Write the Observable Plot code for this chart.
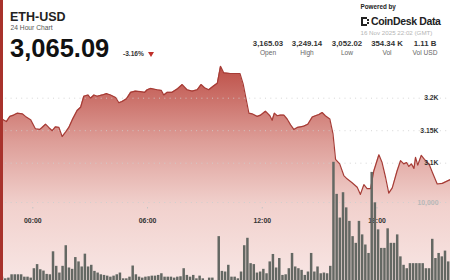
<!DOCTYPE html>
<html><head><meta charset="utf-8">
<script src="https://cdn.jsdelivr.net/npm/d3@7"></script>
<script src="https://cdn.jsdelivr.net/npm/@observablehq/plot@0.6"></script>
<style>
html,body{margin:0;padding:0;background:#fff;overflow:hidden}
#wrap{position:relative;width:450px;height:280px;overflow:hidden;font-family:"Liberation Sans",Arial,sans-serif;background:#fff}
#wrap svg{position:absolute;left:0;top:0}
.t{position:absolute;line-height:1;white-space:nowrap}
#vol g[aria-label^="x-axis"] text{fill:#333}
</style>
</head><body>
<div id="wrap"></div>
<script>
// ---- data ----
const priceTimes = ["15 22:05","15 22:27","15 22:37","15 22:48","15 23:00","15 23:11","15 23:27","15 23:37","15 23:53",
"16 00:08","16 00:22","16 00:29","16 00:40","16 00:50","16 01:01","16 01:11","16 01:22","16 01:32","16 01:43","16 01:53",
"16 02:04","16 02:19","16 02:30","16 02:40","16 02:53","16 03:01","16 03:12","16 03:22","16 03:38","16 03:51",
"16 04:04","16 04:20","16 04:30","16 04:40","16 04:54","16 05:07","16 05:22","16 05:38","16 05:51","16 05:59",
"16 06:09","16 06:30","16 06:43","16 06:51","16 07:02","16 07:17","16 07:33","16 07:49","16 08:04","16 08:20",
"16 08:36","16 08:48","16 08:59","16 09:12","16 09:28","16 09:39","16 09:49","16 09:59","16 10:20","16 10:36",
"16 10:50","16 11:00","16 11:18","16 11:28","16 11:44","16 11:55","16 12:10","16 12:24","16 12:31","16 12:38",
"16 12:47","16 12:57","16 13:08","16 13:18","16 13:29","16 13:39","16 13:50","16 14:00","16 14:10","16 14:23",
"16 14:37","16 14:47","16 14:58","16 15:08","16 15:18","16 15:32","16 15:42","16 15:50","16 16:03","16 16:16",
"16 16:26","16 16:42","16 16:58","16 17:08","16 17:19","16 17:29","16 17:40","16 17:50","16 18:06","16 18:16",
"16 18:27","16 18:37","16 18:48","16 19:03","16 19:14","16 19:24","16 19:33","16 19:40","16 19:48","16 19:56",
"16 20:01","16 20:08","16 20:19","16 20:29","16 20:43","16 20:53","16 21:09","16 21:25","16 21:38","16 21:51","16 22:02"];
const prices = [3166,3167,3164,3172,3174,3177,3176,3172,3167,
3153,3152,3155,3160,3155,3150,3156,3155,3141,3148,3155,
3167,3181,3186,3203,3205,3200,3205,3203,3205,3207,
3205,3201,3193,3195,3199,3209,3211,3210,3209,3213,
3215,3213,3212,3205,3209,3209,3214,3221,3213,3211,
3213,3221,3216,3213,3219,3223,3249,3239,3238,3238,
3238,3222,3177,3176,3172,3174,3180,3173,3166,3177,
3173,3174,3174,3168,3159,3152,3155,3156,3157,3160,
3171,3173,3175,3178,3173,3168,3145,3106,3099,3081,
3076,3070,3063,3052,3067,3061,3061,3088,3113,3101,
3078,3054,3062,3088,3104,3099,3101,3095,3099,3092,
3109,3097,3112,3106,3099,3087,3068,3069,3072,3075,3073];
const volStart = "15 22:00";
const volStepMinutes = 10;
const volumes = [500,500,550,340,430,850,850,850,850,550,
550,430,1620,2140,1490,1320,900,850,3760,1920,
1070,1920,4530,1710,1540,3030,2480,1840,3460,1840,
2050,1280,1070,850,770,680,550,680,850,1070,
340,340,550,1960,850,550,430,550,600,680,
680,770,980,550,550,550,430,550,600,1620,
770,550,770,340,680,340,130,430,430,130,
5680,1280,1200,2050,550,550,340,1200,4530,5470,
2260,2140,1070,1200,1540,980,2480,3420,1710,2910,
770,850,1620,3550,1840,1620,1410,770,1200,3550,
1200,1840,980,1070,980,1920,15090,11030,8030,11240,
9320,7610,5680,4830,7610,5900,4620,3550,13810,9960,
6540,4190,4190,6670,4830,4830,5900,3120,2050,1620,
2260,2260,2260,2260,2260,1620,1620,5340,2910,3550,
3120,3850,2480,2200];
const priceTicks = [3100,3150,3200];
const volTicks = [10000];
const timeTicks = ["16 00:00","16 06:00","16 12:00","16 18:00"];
const windowTimes = ["15 22:02","16 22:02"];
const statValues = ["3,165.03","3,249.14","3,052.02","354.34 K","1.11 B"];
const statLabels = ["Open","High","Low","Vol","Vol USD"];
const titleText = "ETH-USD", subtitleText = "24 Hour Chart", lastPrice = "3,065.09", changeText = "-3.16%";
const stampText = "16 Nov 2025 22:02 (GMT)";

// ---- build ----
const parseT = s => d3.utcParse("%Y-%m-%d %H:%M")("2025-11-" + s);
const xDomain = windowTimes.map(parseT);
const xRange = [-5.3, 453.6];
const priceData = priceTimes.map((t, i) => ({t: parseT(t), p: prices[i]}));
const start = parseT(volStart);
const volData = volumes.map((v, i) => ({
  t1: d3.utcMinute.offset(start, i * volStepMinutes),
  t2: d3.utcMinute.offset(start, (i + 1) * volStepMinutes), v}));

const wrap = document.getElementById("wrap");

const pricePlot = Plot.plot({
  width: 450, height: 280, margin: 0,
  style: {background: "transparent", fontFamily: "Liberation Sans, Arial, sans-serif"},
  x: {type: "utc", domain: xDomain, range: xRange, axis: null},
  y: {domain: [3100, 3200], range: [162.7, 97.7], axis: null},
  marks: [
    Plot.areaY(priceData, {x: "t", y: "p", fill: "url(#areaGrad)"}),
    Plot.ruleY(priceTicks, {stroke: "#cfcfcf", strokeOpacity: 0.85, strokeDasharray: "1,4.3"}),
    Plot.lineY(priceData, {x: "t", y: "p", stroke: "#a63c36", strokeWidth: 1.2}),
    Plot.text(priceTicks, {y: d => d, text: d => (d / 1000) + "K", frameAnchor: "right", dx: -12,
      textAnchor: "end", fontWeight: "bold", fontSize: 6.8, fill: "#333"})
  ]
});
const ys = pricePlot.scale("y");
const defs = d3.select(pricePlot).insert("defs", ":first-child");
const grad = defs.append("linearGradient").attr("id", "areaGrad")
  .attr("gradientUnits", "userSpaceOnUse").attr("x1", 0).attr("x2", 0)
  .attr("y1", ys.apply(d3.max(prices))).attr("y2", 280);
[[0, "#bd4f47"], [0.35, "#dd9d97"], [0.65, "#f1d1cd"], [1, "#f8e6e4"]].forEach(([o, c]) =>
  grad.append("stop").attr("offset", o).attr("stop-color", c));
wrap.appendChild(pricePlot);

const volPlot = Plot.plot({
  width: 450, height: 280, marginTop: 0, marginLeft: 0, marginRight: 0, marginBottom: 73,
  style: {background: "transparent", fontFamily: "Liberation Sans, Arial, sans-serif", fontSize: "6.9px", fontWeight: "bold", color: "#c4c4c4"},
  x: {type: "utc", domain: xDomain, range: xRange, ticks: timeTicks.map(parseT),
      tickFormat: d3.utcFormat("%H:%M"), tickSize: 1.5, tickPadding: 9, label: null},
  y: {domain: [0, 10000], range: [281, 202], axis: null},
  marks: [
    Plot.ruleY(volTicks, {stroke: "#cfcfcf", strokeDasharray: "1,4.3"}),
    Plot.rectY(volData, {x1: "t1", x2: "t2", y: "v", fill: "#646863", insetLeft: 0.35, insetRight: 0.35}),
    Plot.text(volTicks, {y: d => d, text: d => d3.format(",")(d), frameAnchor: "right", dx: -12,
      textAnchor: "end", fontWeight: "bold", fontSize: 6.9, fill: "#b8b8b8"})
  ]
});
volPlot.id = "vol";
wrap.appendChild(volPlot);

// ---- header (HTML text) ----
function addText(txt, css) {
  const d = document.createElement("div");
  d.className = "t"; d.textContent = txt;
  Object.assign(d.style, css);
  wrap.appendChild(d);
  return d;
}
const border = document.createElement("div");
Object.assign(border.style, {position: "absolute", left: "0", top: "0", width: "3px", height: "280px", background: "#a8322c"});
wrap.appendChild(border);

addText(titleText, {left: "10px", top: "11px", fontSize: "12.5px", fontWeight: "bold", color: "#222"});
addText(subtitleText, {left: "10.5px", top: "25px", fontSize: "6.7px", color: "#555"});
addText(lastPrice, {left: "10px", top: "35.5px", fontSize: "25.5px", fontWeight: "bold", color: "#111"});
addText(changeText, {left: "123px", top: "51px", fontSize: "6.6px", fontWeight: "bold", color: "#333"});
const tri = document.createElement("div");
Object.assign(tri.style, {position: "absolute", left: "148px", top: "51.5px", width: "0", height: "0",
  borderLeft: "3.6px solid transparent", borderRight: "3.6px solid transparent", borderTop: "5px solid #c0302a"});
wrap.appendChild(tri);

addText("Powered by", {left: "360.5px", top: "3.6px", fontSize: "6.3px", fontWeight: "bold", color: "#222"});
const icon = document.createElement("div");
Object.assign(icon.style, {position: "absolute", left: "361px", top: "17px", width: "4px", height: "4.5px",
  borderLeft: "2px solid #222", borderTop: "2px solid #222", borderBottom: "2px solid #222"});
wrap.appendChild(icon);
[[366.5, 18.5], [366.5, 22]].forEach(([l, t]) => {
  const s = document.createElement("div");
  Object.assign(s.style, {position: "absolute", left: l + "px", top: t + "px", width: "2px", height: "2px", background: "#222"});
  wrap.appendChild(s);
});
addText("CoinDesk Data", {left: "371px", top: "15.6px", fontSize: "10.5px", fontWeight: "bold", color: "#222", letterSpacing: "-0.35px"});
addText(stampText, {left: "360.5px", top: "30px", fontSize: "6.2px", color: "#b5b5b5"});

const centers = [268, 307, 347, 387, 425];
statValues.forEach((v, i) => addText(v, {left: (centers[i] - 30) + "px", width: "60px", textAlign: "center", top: "40px", fontSize: "7.8px", fontWeight: "bold", color: "#333"}));
statLabels.forEach((v, i) => addText(v, {left: (centers[i] - 30) + "px", width: "60px", textAlign: "center", top: "50px", fontSize: "6.6px", color: "#666"}));
</script>
</body></html>
